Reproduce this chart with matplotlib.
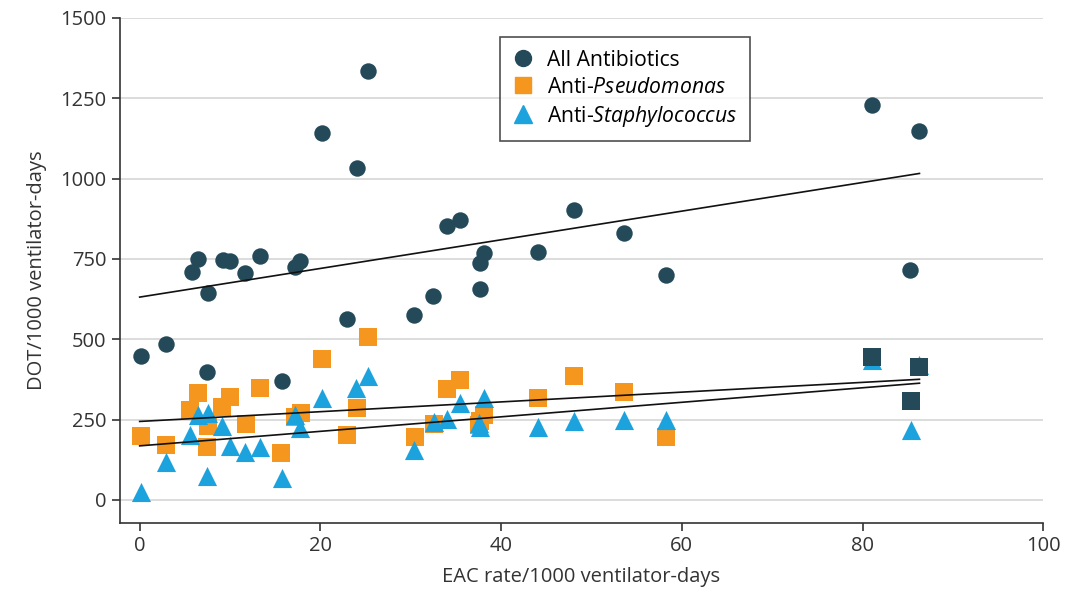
import numpy as np
import matplotlib
matplotlib.use('Agg')
import matplotlib.pyplot as plt
from matplotlib.lines import Line2D

plt.rcParams['font.family'] = ['Open Sans', 'DejaVu Sans']
plt.rcParams['mathtext.fontset'] = 'custom'
plt.rcParams['mathtext.rm'] = 'Open Sans'
plt.rcParams['mathtext.it'] = 'Open Sans:italic'

# hospital-level EAC rate vs antibiotic days of therapy
all_x = [0.1, 2.9, 5.8, 6.5, 7.6, 7.5, 9.2, 10.0, 11.7, 13.3, 15.7, 17.2, 17.7,
         20.2, 23.0, 24.0, 25.3, 30.4, 32.5, 34.0, 35.4, 37.7, 37.7, 38.1,
         44.1, 48.1, 53.6, 58.2, 81.0, 85.3, 86.3]
all_y = [448, 484, 709, 751, 645, 399, 746, 743, 707, 759, 369, 726, 744,
         1143, 563, 1033, 1335, 576, 636, 852, 870, 736, 655, 769,
         772, 901, 829, 699, 1229, 715, 1149]

pseudo_x = [0.1, 2.9, 5.6, 6.5, 7.6, 7.5, 9.1, 10.0, 11.8, 13.3, 15.6, 17.2, 17.8,
            20.2, 23.0, 24.0, 25.3, 30.5, 32.6, 34.0, 35.4, 37.7, 37.6, 38.1,
            44.1, 48.1, 53.6, 58.2, 81.0, 85.4, 86.3]
pseudo_y = [199, 171, 280, 332, 230, 166, 288, 321, 236, 349, 147, 258, 270,
            438, 202, 285, 508, 197, 235, 344, 373, 245, 232, 264,
            318, 386, 337, 195, 446, 308, 413]

staph_x = [0.1, 2.9, 5.6, 6.5, 7.6, 7.5, 9.1, 10.0, 11.7, 13.3, 15.7, 17.2, 17.7,
           20.2, 23.9, 25.3, 30.4, 32.6, 34.0, 35.4, 37.7, 37.6, 38.1,
           44.1, 48.1, 53.6, 58.2, 81.0, 85.4, 86.3]
staph_y = [23, 119, 202, 264, 270, 75, 230, 169, 148, 166, 67, 264, 223,
           318, 347, 386, 156, 241, 252, 301, 228, 240, 316,
           228, 244, 247, 249, 436, 218, 420]

# fitted lines: intercept, slope
all_fit = [631, 4.46]
pseudo_fit = [244, 1.52]
staph_fit = [168, 2.26]

dark = '#244a5a'
orange = '#f5961f'
blue = '#1ca3de'

fig, ax = plt.subplots(figsize=(10.89, 5.97), dpi=100)
fig.subplots_adjust(left=0.110, right=0.958, bottom=0.124, top=0.970)

ax.scatter(all_x, all_y, s=140, marker='o', color=dark, linewidths=0, zorder=3)

px = np.array(pseudo_x)
py = np.array(pseudo_y)
low = px < 80
ax.scatter(px[low], py[low], s=150, marker='s', color=orange, linewidths=0, zorder=3)
ax.scatter(staph_x, staph_y, s=190, marker='^', color=blue, linewidths=0, zorder=4)
# the far-right squares sit on top and come out dark
ax.scatter(px[~low], py[~low], s=150, marker='s', color=dark, linewidths=0, zorder=5)

for xs, fit in [(all_x, all_fit), (pseudo_x, pseudo_fit), (staph_x, staph_fit)]:
    xx = np.array([0, max(xs)])
    ax.plot(xx, fit[0] + fit[1] * xx, color='#111111', lw=1.2, zorder=6)

ax.set_xlim(-2.2, 100)
ax.set_ylim(-72, 1500)
ax.set_xticks(np.arange(0, 101, 20))
ax.set_yticks(np.arange(0, 1501, 250))
ax.yaxis.grid(True, color='#d9d9d9', lw=1.3)
ax.set_axisbelow(True)

for s in ['top', 'right']:
    ax.spines[s].set_visible(False)
for s in ['left', 'bottom']:
    ax.spines[s].set_color('#333333')
    ax.spines[s].set_linewidth(1.2)
ax.tick_params(axis='both', colors='#333333', length=6, width=1.2, labelsize=14.5,
               labelcolor='#333333')
ax.set_xlabel('EAC rate/1000 ventilator-days', fontsize=14.5, color='#333333', labelpad=8)
ax.set_ylabel('DOT/1000 ventilator-days', fontsize=14.5, color='#333333', labelpad=10)

handles = [
    Line2D([], [], marker='o', ls='', color=dark, markersize=11.5, label='All Antibiotics'),
    Line2D([], [], marker='s', ls='', color=orange, markersize=11, label='Anti-$\\mathit{Pseudomonas}$'),
    Line2D([], [], marker='^', ls='', color=blue, markersize=13, label='Anti-$\\mathit{Staphylococcus}$'),
]
leg = ax.legend(handles=handles, loc='upper left', bbox_to_anchor=(0.412, 0.962),
                borderaxespad=0, fontsize=15.2, frameon=True, fancybox=False,
                handletextpad=0.6, handlelength=1.0, labelspacing=0.28, borderpad=0.6)
leg.get_frame().set_edgecolor('#222222')
leg.get_frame().set_linewidth(1.2)
leg.set_zorder(10)

fig.savefig('out.png', dpi=100)
